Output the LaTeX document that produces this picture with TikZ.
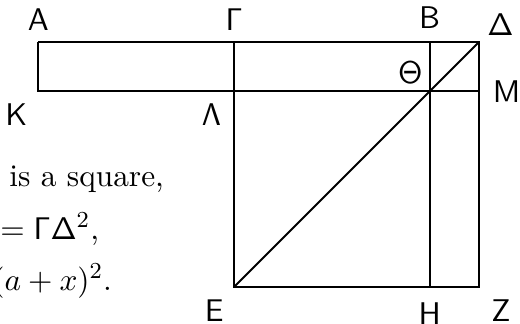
\documentclass[tikz,border=0pt,11pt]{standalone}
\usepackage{amsmath}
\usetikzlibrary{positioning}
\tikzset{
  lbl/.style={inner sep=1pt},
  txt/.style={inner sep=0pt, anchor=base east}
}

\begin{document}
\begin{tikzpicture}[line width=0.7pt]
  \useasboundingbox (-2.871,-0.454) rectangle (3.509,3.521);
  % points
  \coordinate (E) at (0,0);
  \coordinate (Z) at (3,0);
  \coordinate (D) at (3,3);
  \coordinate (G) at (0,3);
  \coordinate (A) at (-2.4,3);
  \coordinate (K) at (-2.4,2.4);
  \coordinate (L) at (0,2.4);
  \coordinate (M) at (3,2.4);
  \coordinate (B) at (2.4,3);
  \coordinate (H) at (2.4,0);
  \coordinate (T) at (2.4,2.4);
  % rectangle and square
  \draw (A) -- (D) -- (Z) -- (E) -- (G);
  \draw (A) -- (K) -- (M);
  \draw (B) -- (H);
  \draw (E) -- (D);
  % labels
  \node[lbl, above=1mm of A] (lA) {$\mathsf{A}$};
  \node[lbl, above=1mm of G] (lG) {$\mathsf{\Gamma}$};
  \node[lbl, above=1.2mm of B] (lB) {$\mathsf{B}$};
  \node[lbl, above right=0.4mm and 0.6mm of D] (lD) {$\mathsf{\Delta}$};
  \node[lbl, below left=1mm and 0.9mm of K] (lK) {$\mathsf{K}$};
  \node[lbl, below left=1.1mm and 1.1mm of L] (lL) {$\mathsf{\Lambda}$};
  \node[lbl, above left=0.5mm and 0.4mm of T] (lT) {$\mathsf{\Theta}$};
  \node[lbl, right=1.3mm of M] (lM) {$\mathsf{M}$};
  \node[lbl, below left=1.1mm and 0.8mm of E] (lE) {$\mathsf{E}$};
  \node[lbl, below=1.5mm of H] (lH) {$\mathsf{H}$};
  \node[lbl, below right=1.1mm and 1.1mm of Z] (lZ) {$\mathsf{Z}$};
  % text
  \node[txt] (t1) at (-0.847,1.227) {E is a square,};
  \node[txt] (t2) at (-1.644,0.577) {$=\mathsf{\Gamma\Delta}^2$,};
  \node[txt] (t3) at (-1.485,-0.04) {$(a+x)^2$.};
\end{tikzpicture}
\end{document}
